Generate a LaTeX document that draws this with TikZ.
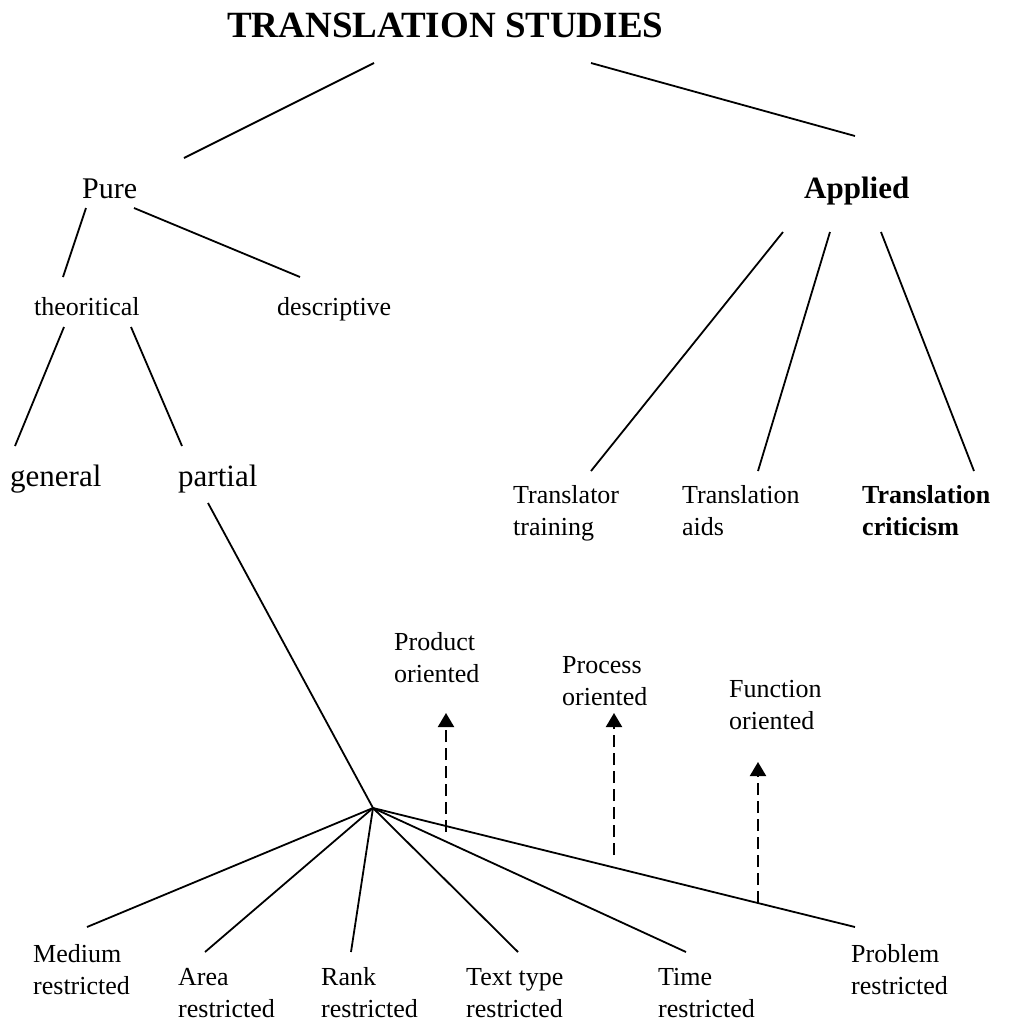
\documentclass[tikz,border=0pt]{standalone}
\usepackage{fontspec}
\setmainfont{Liberation Serif}
\usetikzlibrary{arrows.meta}
\begin{document}
\begin{tikzpicture}[x=1pt,y=-1pt,
  conn/.style={line width=1.8pt},
  darrow/.style={line width=2pt, dash pattern=on 12pt off 6pt, -{Triangle[width=16pt,length=14pt]}},
  lbl/.style={anchor=base west, inner sep=0pt, align=left, font=\fontsize{26}{32}\selectfont},
  blbl/.style={lbl, font=\fontsize{26}{32}\selectfont\bfseries},
  big/.style={anchor=base west, inner sep=0pt, font=\fontsize{31}{36}\selectfont},
  ttl/.style={anchor=base west, inner sep=0pt, font=\fontsize{37}{42}\selectfont\bfseries}]
\useasboundingbox (0,0) rectangle (1011,1021);

% text nodes (two-line nodes are placed by the baseline of their last line)
\node[ttl] (title) at (227,37) {TRANSLATION STUDIES};
\node[anchor=base west, inner sep=0pt, font=\fontsize{30}{36}\selectfont] (pure) at (82,198) {Pure};
\node[big, font=\fontsize{31}{36}\selectfont\bfseries] (applied) at (804,198) {Applied};
\node[lbl] (theo) at (34,315) {theoritical};
\node[lbl] (desc) at (277,315) {descriptive};
\node[big] (general) at (10,486) {general};
\node[big] (partial) at (178,486) {partial};
\node[lbl] (ttrain) at (513,535) {Translator\\training};
\node[lbl] (taids) at (682,535) {Translation\\aids};
\node[blbl] (tcrit) at (862,535) {Translation\\criticism};
\node[lbl] (prod) at (394,682) {Product\\oriented};
\node[lbl] (proc) at (562,705) {Process\\oriented};
\node[lbl] (func) at (729,729) {Function\\oriented};
\node[lbl] (medium) at (33,994) {Medium\\restricted};
\node[lbl] (area) at (178,1017) {Area\\restricted};
\node[lbl] (rank) at (321,1017) {Rank\\restricted};
\node[lbl] (ttype) at (466,1017) {Text type\\restricted};
\node[lbl] (time) at (658,1017) {Time\\restricted};
\node[lbl] (problem) at (851,994) {Problem\\restricted};

% connector end points
\coordinate (ts1) at (374,63);  \coordinate (p0) at (184,158);
\coordinate (ts2) at (591,63);  \coordinate (a0) at (855,136);
\coordinate (p1) at (86,208);   \coordinate (th0) at (63,277);
\coordinate (p2) at (134,208);  \coordinate (de0) at (300,277);
\coordinate (th1) at (64,327);  \coordinate (ge0) at (15,446);
\coordinate (th2) at (131,327); \coordinate (pa0) at (182,446);
\coordinate (pa1) at (208,503); \coordinate (hub) at (373,808);
\coordinate (ap1) at (783,232); \coordinate (tt0) at (591,471);
\coordinate (ap2) at (830,232); \coordinate (ta0) at (758,471);
\coordinate (ap3) at (881,232); \coordinate (tc0) at (974,471);
\coordinate (me0) at (87,927);  \coordinate (ar0) at (205,952);
\coordinate (ra0) at (351,952); \coordinate (tx0) at (518,952);
\coordinate (ti0) at (686,952); \coordinate (pr0) at (855,927);
\coordinate (d1b) at (446,832); \coordinate (d1t) at (446,713);
\coordinate (d2b) at (614,855); \coordinate (d2t) at (614,713);
\coordinate (d3b) at (758,903); \coordinate (d3t) at (758,762);

% tree lines
\draw[conn] (ts1) -- (p0);
\draw[conn] (ts2) -- (a0);
\draw[conn] (p1) -- (th0);
\draw[conn] (p2) -- (de0);
\draw[conn] (th1) -- (ge0);
\draw[conn] (th2) -- (pa0);
\draw[conn] (pa1) -- (hub);
\draw[conn] (ap1) -- (tt0);
\draw[conn] (ap2) -- (ta0);
\draw[conn] (ap3) -- (tc0);
\draw[conn] (hub) -- (me0);
\draw[conn] (hub) -- (ar0);
\draw[conn] (hub) -- (ra0);
\draw[conn] (hub) -- (tx0);
\draw[conn] (hub) -- (ti0);
\draw[conn] (hub) -- (pr0);

% dashed arrows
\draw[darrow] (d1b) -- (d1t);
\draw[darrow] (d2b) -- (d2t);
\draw[darrow] (d3b) -- (d3t);
\end{tikzpicture}
\end{document}
